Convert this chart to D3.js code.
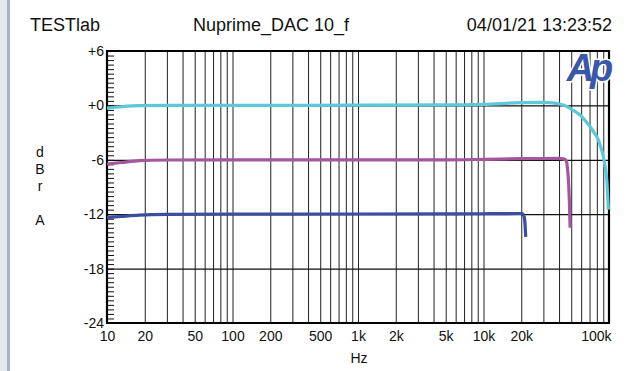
<!DOCTYPE html>
<html><head><meta charset="utf-8">
<script src="https://cdn.jsdelivr.net/npm/d3@7/dist/d3.min.js"></script>
<style>
html,body{margin:0;padding:0;background:#fff;}
svg{display:block;font-family:"Liberation Sans",Arial,Helvetica,sans-serif;}
</style></head>
<body>
<svg id="c" width="636" height="371"></svg>
<script>
// ---- data ----
const titleLeft = "TESTlab";
const titleMid = "Nuprime_DAC 10_f";
const titleRight = "04/01/21 13:23:52";
const xTickLabels = [10, 20, 50, 100, 200, 500, 1000, 2000, 5000, 10000, 20000, 100000];
const xTickText = ["10","20","50","100","200","500","1k","2k","5k","10k","20k","100k"];
const yTicks = [6, 0, -6, -12, -18, -24];
const yTickText = ["+6","+0","-6","-12","-18","-24"];
const yAxisLetters = ["d","B","r","","A"];

const cyanFreq = [10, 13, 18, 30, 100, 1000, 5000, 10000, 20000, 30000, 37000, 41000, 45000, 49000, 54000, 58900, 64000, 70800, 76000, 82300, 86000, 90200, 93000, 96000, 98900];
const cyanDb   = [-0.3, -0.15, -0.03, 0, 0, 0.02, 0.05, 0.12, 0.3, 0.33, 0.25, 0.12, -0.05, -0.33, -0.7, -1.06, -1.6, -2.35, -3.0, -3.82, -4.6, -5.66, -6.7, -8.2, -11.5];

const magFreq = [10, 13, 18, 30, 100, 1000, 5000, 10000, 20000, 40000, 43300, 45000, 46100, 46700, 47500, 48300, 49000];
const magDb   = [-6.46, -6.3, -6.1, -6.02, -6.0, -6.0, -6.0, -5.95, -5.88, -5.85, -5.9, -6.0, -6.3, -7.0, -8.2, -10.4, -13.5];

const blueFreq = [10, 13, 18, 30, 100, 1000, 5000, 10000, 20300, 21100, 21500, 21700];
const blueDb   = [-12.38, -12.25, -12.1, -12.02, -12.0, -11.98, -11.96, -11.95, -11.92, -12.27, -13.4, -14.5];

// ---- chart ----
const svg = d3.select("#c");
const L = 107, R = 609, T = 51, B = 323;
const x = d3.scaleLog().domain([10, 100000]).range([L, R]);
const y = d3.scaleLinear().domain([-24, 6]).range([B, T]);

// left strip
svg.append("rect").attr("x",0).attr("y",0).attr("width",7).attr("height",371).attr("fill","#e4e9ef");
svg.append("rect").attr("x",7).attr("y",0).attr("width",3).attr("height",371).attr("fill","#a9b5c7");

// titles
const tf = 18;
svg.append("text").attr("x",30).attr("y",31).attr("font-size",tf).attr("fill","#111").text(titleLeft);
svg.append("text").attr("x",193).attr("y",31).attr("font-size",tf).attr("fill","#111").text(titleMid);
svg.append("text").attr("x",612).attr("y",31).attr("font-size",tf).attr("text-anchor","end").attr("fill","#111").text(titleRight);

// vertical gridlines (1..9 per decade)
const gridFreqs = [];
for (let d = 10; d < 100000; d *= 10) for (let m = 1; m < 10; m++) { const f = d*m; if (f > 10 && f < 100000) gridFreqs.push(f); }
const gx = svg.append("g").attr("class","vgrid")
  .attr("transform",`translate(0,${B})`)
  .call(d3.axisBottom(x).tickValues(gridFreqs).tickSize(-(B-T)).tickFormat(""));
gx.select(".domain").remove();
gx.selectAll(".tick line").attr("stroke","#222").attr("stroke-width",1);

// horizontal gridlines
const gy = svg.append("g").attr("class","hgrid")
  .attr("transform",`translate(${L},0)`)
  .call(d3.axisLeft(y).tickValues(yTicks.filter(v=>v>-24 && v<6)).tickSize(-(R-L)).tickFormat(""));
gy.select(".domain").remove();
gy.selectAll(".tick line").attr("stroke","#111").attr("stroke-width",1.2);

// minor left ticks every 0.5 dB
const minor = d3.range(-24, 6.01, 0.5);
const gm = svg.append("g")
  .attr("transform",`translate(${L},0)`)
  .call(d3.axisRight(y).tickValues(minor).tickSize(7).tickFormat(""));
gm.select(".domain").remove();
gm.selectAll(".tick line").attr("stroke","#111").attr("stroke-width",1);

// frame
svg.append("line").attr("x1",L).attr("x2",R+1).attr("y1",T).attr("y2",T).attr("stroke","#000").attr("stroke-width",2.2);
svg.append("line").attr("x1",L).attr("x2",R+1).attr("y1",B).attr("y2",B).attr("stroke","#000").attr("stroke-width",2.2);
svg.append("line").attr("x1",L).attr("x2",L).attr("y1",T-1).attr("y2",B+1).attr("stroke","#000").attr("stroke-width",2.2);
svg.append("line").attr("x1",R).attr("x2",R).attr("y1",T-1).attr("y2",B+1).attr("stroke","#000").attr("stroke-width",2.2);

// x tick labels
const xl = svg.append("g").attr("transform",`translate(0,${B})`)
  .call(d3.axisBottom(x).tickValues(xTickLabels).tickSize(0).tickPadding(8)
    .tickFormat((d,i)=>xTickText[i]));
xl.select(".domain").remove();
xl.selectAll("text").attr("font-size",14).attr("font-family","Liberation Sans, Arial, sans-serif").attr("fill","#111");
xl.selectAll(".tick").filter(d=>d===100000).select("text").attr("text-anchor","end").attr("dx",2);

// y tick labels
const yl = svg.append("g").attr("transform",`translate(${L},0)`)
  .call(d3.axisLeft(y).tickValues(yTicks).tickSize(0).tickPadding(3)
    .tickFormat((d,i)=>yTickText[i]));
yl.select(".domain").remove();
yl.selectAll("text").attr("font-size",14).attr("font-family","Liberation Sans, Arial, sans-serif").attr("fill","#111");

// axis titles
svg.append("text").attr("x",359).attr("y",363).attr("font-size",14).attr("text-anchor","middle").attr("fill","#111").text("Hz");
yAxisLetters.forEach((c,i)=>{
  svg.append("text").attr("x",40).attr("y",157 + i*17).attr("font-size",14).attr("text-anchor","middle").attr("fill","#111").text(c);
});

// Ap logo
svg.append("text").attr("x",588).attr("y",81).attr("font-size",38).attr("font-weight","bold").attr("font-style","italic")
  .attr("text-anchor","middle").attr("letter-spacing",-4).attr("fill","#3a58a8")
  .attr("stroke","#fff").attr("stroke-width",3).attr("paint-order","stroke").text("Ap");

// curves
const line = d3.line().x(d=>x(d[0])).y(d=>y(d[1])).curve(d3.curveMonotoneX);
const series = [
  {f: blueFreq, v: blueDb, c: "#3a4fa0"},
  {f: magFreq, v: magDb, c: "#a4579f"},
  {f: cyanFreq, v: cyanDb, c: "#5cc8d9"}
];
series.forEach(s=>{
  svg.append("path").datum(s.f.map((f,i)=>[f, s.v[i]]))
    .attr("d", line).attr("fill","none").attr("stroke", s.c).attr("stroke-width",3.2)
    .attr("stroke-linecap","butt").attr("stroke-linejoin","round");
});
</script>
</body></html>
